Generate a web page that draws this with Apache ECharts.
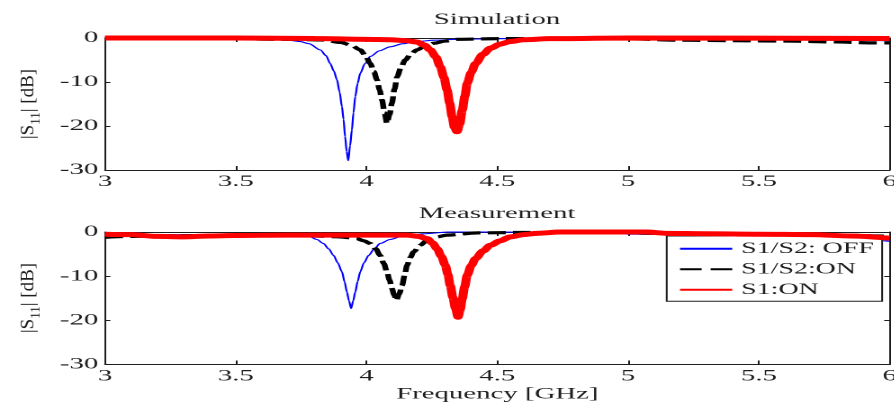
<!DOCTYPE html>
<html>
<head>
<meta charset="utf-8">
<script src="https://cdn.jsdelivr.net/npm/echarts@6/dist/echarts.min.js"></script>
<style>
  html, body { margin: 0; padding: 0; background: #fff; overflow: hidden; }
  #page { width: 894px; height: 404px; overflow: hidden; position: relative; }
  #chart { height: 404px; transform-origin: 0 0; }
</style>
</head>
<body>
<div id="page"><div id="chart"></div></div>
<script>
// |S11| in dB versus frequency in GHz, [frequency, dB] pairs.
const simOff = [
  [3.0, 0], [3.2, 0], [3.4, -0.1], [3.5, -0.15], [3.6, -0.3], [3.7, -0.5], [3.746, -0.8],
  [3.78, -1.3], [3.823, -2.7], [3.845, -4.0], [3.861, -5.8], [3.875, -7.5], [3.887, -9.5],
  [3.897, -12.3], [3.906, -15.6], [3.912, -18.5], [3.918, -22.4], [3.924, -25.8], [3.93, -27.9],
  [3.937, -24.5], [3.944, -20.9], [3.95, -17.0], [3.957, -13.3], [3.966, -10.3], [3.976, -8.0],
  [3.994, -5.8], [4.014, -4.2], [4.05, -2.9], [4.09, -2.0], [4.14, -1.3], [4.193, -0.8],
  [4.26, -0.5], [4.346, -0.3], [4.5, -0.15], [4.7, -0.05], [5.0, 0], [5.2, -0.2], [5.4, -0.3],
  [5.6, -0.4], [5.8, -0.5], [6.0, -0.6]
];
const simS1S2On = [
  [3.0, 0], [3.3, -0.1], [3.5, -0.2], [3.7, -0.3], [3.835, -0.45], [3.9, -1.0], [3.94, -1.6],
  [3.976, -2.7], [3.996, -4.0], [4.014, -5.8], [4.028, -7.6], [4.04, -9.5], [4.05, -11.8],
  [4.059, -14.1], [4.069, -17.0], [4.078, -19.4], [4.088, -17.4], [4.097, -14.8], [4.107, -11.6],
  [4.117, -8.8], [4.132, -6.6], [4.148, -5.0], [4.17, -3.6], [4.193, -2.7], [4.225, -1.8],
  [4.257, -1.2], [4.3, -0.7], [4.35, -0.3], [4.5, -0.15], [4.8, -0.1], [5.0, -0.2], [5.2, -0.5],
  [5.4, -0.6], [5.6, -0.7], [5.8, -0.9], [5.92, -1.1], [6.0, -1.1]
];
const simS1On = [
  [3.0, 0], [3.5, 0], [3.8, -0.1], [4.0, -0.3], [4.09, -0.4], [4.15, -0.6], [4.193, -0.9],
  [4.22, -1.6], [4.244, -2.7], [4.265, -4.3], [4.282, -6.5], [4.296, -9.0], [4.308, -11.8],
  [4.318, -14.8], [4.327, -17.9], [4.336, -20.3], [4.346, -21.3], [4.356, -19.6], [4.366, -16.4],
  [4.376, -13.2], [4.385, -10.3], [4.4, -7.8], [4.417, -5.8], [4.445, -3.7], [4.474, -2.3],
  [4.51, -1.4], [4.55, -0.8], [4.6, -0.4], [4.7, -0.15], [5.0, 0], [6.0, -0.1]
];
const measOff = [
  [3.0, -0.5], [3.2, -0.6], [3.4, -0.6], [3.6, -0.6], [3.707, -0.6], [3.75, -0.8], [3.784, -1.1],
  [3.81, -1.7], [3.835, -2.6], [3.855, -3.8], [3.874, -5.3], [3.89, -7.0], [3.906, -9.0],
  [3.916, -11.3], [3.925, -13.6], [3.933, -15.6], [3.941, -17.3], [3.949, -15.6], [3.957, -13.6],
  [3.966, -11.2], [3.976, -9.0], [3.99, -7.0], [4.008, -5.3], [4.03, -3.8], [4.052, -2.6],
  [4.09, -1.7], [4.129, -1.1], [4.17, -0.7], [4.218, -0.4], [4.32, 0], [4.6, -0.05], [4.9, -0.2],
  [5.02, -0.5], [5.15, -0.5], [5.3, -0.7], [5.5, -0.9], [5.7, -1.2], [5.85, -1.6], [6.0, -2.1]
];
const measS1S2On = [
  [3.0, -1.2], [3.1, -1.0], [3.2, -0.9], [3.4, -0.8], [3.6, -0.8], [3.707, -0.7], [3.8, -0.9],
  [3.899, -1.1], [3.963, -1.5], [3.99, -2.0], [4.014, -2.6], [4.035, -3.8], [4.052, -5.3],
  [4.066, -7.1], [4.078, -9.0], [4.088, -10.9], [4.097, -12.8], [4.106, -14.3], [4.114, -15.5],
  [4.125, -14.0], [4.136, -12.1], [4.146, -9.7], [4.155, -7.5], [4.167, -5.8], [4.18, -4.5],
  [4.205, -3.0], [4.231, -1.9], [4.27, -1.1], [4.308, -0.7], [4.423, -0.2], [4.6, -0.1],
  [4.8, -0.1], [5.0, -0.2], [5.1, -0.3], [5.3, -0.4], [5.5, -0.5], [5.7, -0.6], [5.9, -0.8], [6.0, -1.0]
];
const measS1On = [
  [3.0, -0.5], [3.1, -0.6], [3.2, -1.0], [3.3, -1.1], [3.4, -0.9], [3.5, -0.8], [3.7, -0.7],
  [3.9, -0.7], [4.155, -0.7], [4.2, -1.0], [4.231, -1.5], [4.252, -2.5], [4.27, -3.8],
  [4.286, -5.5], [4.301, -7.5], [4.311, -9.6], [4.32, -12.1], [4.33, -14.8], [4.34, -17.3],
  [4.35, -19.3], [4.358, -17.6], [4.366, -15.1], [4.375, -12.4], [4.385, -9.8], [4.4, -7.6],
  [4.417, -6.0], [4.445, -4.3], [4.474, -3.0], [4.51, -2.0], [4.55, -1.1], [4.6, -0.6],
  [4.65, -0.3], [4.74, 0], [5.07, 0], [5.15, -0.3], [5.3, -0.4], [5.5, -0.5], [5.7, -0.6],
  [5.85, -0.9], [6.0, -1.4]
];

const seriesNames = ['S1/S2: OFF', 'S1/S2:ON', 'S1:ON'];
const panelTitles = ['Simulation', 'Measurement'];
const xTicks = { min: 3, max: 6, step: 0.5 };
const yTicks = { min: -30, max: 0, step: 10 };
const xName = 'Frequency [GHz]';

// The figure is laid out narrow and then widened horizontally on the page.
const STRETCH = 1.8;
const PAGE_W = 894;
const W = PAGE_W / STRETCH;
const chartEl = document.getElementById('chart');
chartEl.style.width = W + 'px';
chartEl.style.transform = 'scaleX(' + STRETCH + ')';

const FONT = '"Liberation Serif", "Times New Roman", serif';
const INK = '#1e1e1e';
const GRID_LEFT = 105 / STRETCH;
const GRID_RIGHT = W - 889 / STRETCH;
const grids = [
  { left: GRID_LEFT, right: GRID_RIGHT, top: 38, height: 132 },
  { left: GRID_LEFT, right: GRID_RIGHT, top: 232, height: 132.5 }
];

function xAxisFor(gridIndex, position, withLabels, withName) {
  return {
    type: 'value', gridIndex, position,
    min: xTicks.min, max: xTicks.max, interval: xTicks.step,
    axisLine: { show: true, onZero: false, lineStyle: { color: INK, width: 1 } },
    axisTick: { show: true, inside: true, length: 4, lineStyle: { color: INK } },
    axisLabel: { show: withLabels, margin: 4, color: INK, fontSize: 16, fontFamily: FONT },
    splitLine: { show: false },
    name: withName ? xName : '',
    nameLocation: 'middle', nameGap: 22,
    nameTextStyle: { color: INK, fontSize: 16, fontFamily: FONT }
  };
}
function yAxisFor(gridIndex, position, withLabels) {
  return {
    type: 'value', gridIndex, position,
    min: yTicks.min, max: yTicks.max, interval: yTicks.step,
    axisLine: { show: true, onZero: false, lineStyle: { color: INK, width: 1 } },
    axisTick: { show: true, inside: true, length: 3, lineStyle: { color: INK } },
    axisLabel: { show: withLabels, margin: 3.7, color: INK, fontSize: 16, fontFamily: FONT },
    splitLine: { show: false }
  };
}

const styles = [
  { color: '#0000ff', width: 1.1, type: 'solid' },
  { color: '#000000', width: 3.2, type: [10, 4] },
  { color: '#ff0000', width: 5, type: 'solid' }
];
const panels = [[simOff, simS1S2On, simS1On], [measOff, measS1S2On, measS1On]];

const series = [];
panels.forEach((set, p) => {
  set.forEach((data, k) => {
    series.push({
      type: 'line', name: seriesNames[k], data,
      xAxisIndex: p * 2, yAxisIndex: p * 2,
      symbol: 'none', showSymbol: false,
      smooth: 0.3, smoothMonotone: 'x',
      lineStyle: { color: styles[k].color, width: styles[k].width, type: styles[k].type },
      itemStyle: { color: styles[k].color },
      z: 2 + k
    });
  });
});

// Rotated y-axis caption |S11| [dB]; squeezed across so it keeps its shape once widened.
function yCaption(cy) {
  return {
    type: 'text', x: 15.6, y: cy, rotation: Math.PI / 2, scaleY: 1 / STRETCH,
    style: {
      text: '{m||S}{s|11}{m|| [dB]}',
      align: 'center', verticalAlign: 'middle', fill: INK,
      rich: {
        m: { fontSize: 19, lineHeight: 30, fontFamily: FONT, fill: INK, verticalAlign: 'middle' },
        s: { fontSize: 13, lineHeight: 13, fontFamily: FONT, fill: INK, verticalAlign: 'bottom' }
      }
    }
  };
}

const chart = echarts.init(chartEl, null, { devicePixelRatio: 2 });
chart.setOption({
  animation: false,
  backgroundColor: '#ffffff',
  grid: grids.map(g => Object.assign({ containLabel: false, outerBoundsMode: 'none' }, g)),
  title: [
    { text: panelTitles[0], left: (GRID_LEFT + W - GRID_RIGHT) / 2, top: 12, textAlign: 'center', padding: 0,
      textStyle: { color: INK, fontSize: 16, fontWeight: 'normal', fontFamily: FONT } },
    { text: panelTitles[1], left: (GRID_LEFT + W - GRID_RIGHT) / 2, top: 206, textAlign: 'center', padding: 0,
      textStyle: { color: INK, fontSize: 16, fontWeight: 'normal', fontFamily: FONT } }
  ],
  legend: {
    orient: 'vertical', left: 370.4, top: 236,
    padding: [4.8, 4.6, 3.5, 6.4],
    backgroundColor: '#ffffff', borderColor: INK, borderWidth: 1, borderRadius: 0,
    itemWidth: 29, itemHeight: 12, itemGap: 4.5, selectedMode: false,
    // line samples only, no marker dot
    itemStyle: { opacity: 0 },
    textStyle: { color: INK, fontSize: 15.5, lineHeight: 15, fontFamily: FONT },
    data: [
      { name: seriesNames[0] },
      { name: seriesNames[1], lineStyle: { type: [12, 5] } },
      { name: seriesNames[2] }
    ]
  },
  xAxis: [
    xAxisFor(0, 'bottom', true, false), xAxisFor(0, 'top', false, false),
    xAxisFor(1, 'bottom', true, true), xAxisFor(1, 'top', false, false)
  ],
  yAxis: [
    yAxisFor(0, 'left', true), yAxisFor(0, 'right', false),
    yAxisFor(1, 'left', true), yAxisFor(1, 'right', false)
  ],
  graphic: [yCaption(104), yCaption(298)],
  series
});
</script>
</body>
</html>
